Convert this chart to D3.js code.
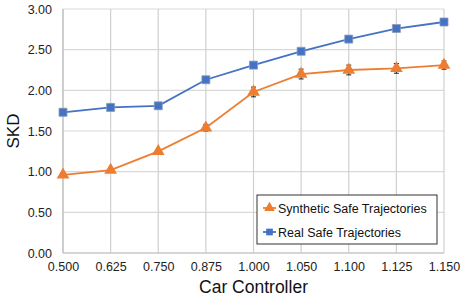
<!DOCTYPE html>
<html>
<head>
<meta charset="utf-8">
<script src="https://cdn.jsdelivr.net/npm/d3@7"></script>
<style>
  body { margin: 0; background: #fff; }
  text { font-family: "Liberation Sans", Arial, sans-serif; }
</style>
</head>
<body>
<div id="chart"></div>
<script>
var w = 463;
var h = 300;

// Data =====================================================
var categories = ["0.500","0.625","0.750","0.875","1.000","1.050","1.100","1.125","1.150"];
var realValues = [1.73, 1.79, 1.81, 2.13, 2.31, 2.48, 2.63, 2.76, 2.84];
var realErr    = [0.04, 0.04, 0.03, 0.03, 0.03, 0.03, 0.03, 0.03, 0.04];
var synthValues = [0.96, 1.02, 1.25, 1.54, 1.98, 2.20, 2.25, 2.27, 2.31];
var synthErr    = [0.02, 0.02, 0.02, 0.04, 0.06, 0.06, 0.06, 0.06, 0.05];
var yTicks = [0, 0.5, 1, 1.5, 2, 2.5, 3];
// ===========================================================

var margin = {left: 63, right: 19, top: 9, bottom: 47};

var svg = d3.select('#chart')
            .append('svg')
            .attr('width', w)
            .attr('height', h);

var x = d3.scalePoint()
          .domain(categories)
          .range([margin.left, w - margin.right]);

var y = d3.scaleLinear()
          .domain([0, 3])
          .range([h - margin.bottom, margin.top]);

// Grid =====================================================
svg.append('g').selectAll('line')
   .data(yTicks)
   .enter().append('line')
   .attr('x1', margin.left).attr('x2', w - margin.right)
   .attr('y1', d => y(d)).attr('y2', d => y(d))
   .attr('stroke', '#d9d9d9').attr('stroke-width', 1.2);

svg.append('g').selectAll('line')
   .data(categories)
   .enter().append('line')
   .attr('x1', d => x(d)).attr('x2', d => x(d))
   .attr('y1', margin.top).attr('y2', h - margin.bottom)
   .attr('stroke', '#d0d0d0').attr('stroke-width', 1.2);

// axis lines
svg.append('line')
   .attr('x1', margin.left).attr('x2', w - margin.right)
   .attr('y1', y(0)).attr('y2', y(0))
   .attr('stroke', '#bfbfbf').attr('stroke-width', 1.2);
svg.append('line')
   .attr('x1', margin.left).attr('x2', margin.left)
   .attr('y1', margin.top).attr('y2', y(0))
   .attr('stroke', '#bfbfbf').attr('stroke-width', 1.2);

// Axes labels ===============================================
var yAxis = d3.axisLeft(y).tickValues(yTicks).tickFormat(d3.format('.2f')).tickSize(0).tickPadding(11);
var gy = svg.append('g').attr('transform', 'translate(' + margin.left + ',0)').call(yAxis);
gy.select('.domain').remove();
gy.selectAll('text').attr('font-size', 12.5).attr('fill', '#222')
  .style('font-family', '"Liberation Sans", Arial, sans-serif');

var xAxis = d3.axisBottom(x).tickSize(0).tickPadding(9);
var gx = svg.append('g').attr('transform', 'translate(0,' + y(0) + ')').call(xAxis);
gx.select('.domain').remove();
gx.selectAll('text').attr('font-size', 12.5).attr('fill', '#222')
  .style('font-family', '"Liberation Sans", Arial, sans-serif');

svg.append('text')
   .attr('x', (margin.left + w - margin.right) / 2)
   .attr('y', 293)
   .attr('text-anchor', 'middle')
   .attr('font-size', 17.5)
   .attr('fill', '#111')
   .text('Car Controller');

svg.append('text')
   .attr('transform', 'translate(19,' + ((margin.top + y(0)) / 2) + ') rotate(-90)')
   .attr('text-anchor', 'middle')
   .attr('font-size', 17)
   .attr('fill', '#111')
   .text('SKD');

// Series ====================================================
var series = [
  {name: 'Synthetic Safe Trajectories', values: synthValues, err: synthErr, color: '#ED7D31', shape: d3.symbolTriangle, size: 70},
  {name: 'Real Safe Trajectories', values: realValues, err: realErr, color: '#4472C4', shape: d3.symbolSquare, size: 64}
];

var line = d3.line()
             .x((d, i) => x(categories[i]))
             .y(d => y(d));

series.forEach(function(s){
    svg.append('path')
       .datum(s.values)
       .attr('fill', 'none')
       .attr('stroke', s.color)
       .attr('stroke-width', 1.8)
       .attr('d', line);

    // error bars
    var eb = svg.append('g');
    s.values.forEach(function(v, i){
        var cx = x(categories[i]);
        eb.append('line')
          .attr('x1', cx).attr('x2', cx)
          .attr('y1', y(v - s.err[i])).attr('y2', y(v + s.err[i]))
          .attr('stroke', '#222').attr('stroke-width', 1);
        [v - s.err[i], v + s.err[i]].forEach(function(e){
            eb.append('line')
              .attr('x1', cx - 2.5).attr('x2', cx + 2.5)
              .attr('y1', y(e)).attr('y2', y(e))
              .attr('stroke', '#222').attr('stroke-width', 1);
        });
    });

    svg.append('g').selectAll('path')
       .data(s.values)
       .enter().append('path')
       .attr('transform', (d, i) => 'translate(' + x(categories[i]) + ',' + y(d) + ')')
       .attr('d', d3.symbol().type(s.shape).size(s.size))
       .attr('fill', s.color)
       .attr('stroke', s.shape === d3.symbolSquare ? '#8a9bb8' : 'none')
       .attr('stroke-width', 0.8);
});

// Legend ====================================================
var lg = svg.append('g').attr('transform', 'translate(257,195)');
lg.append('rect')
  .attr('width', 180).attr('height', 49)
  .attr('fill', '#fff').attr('stroke', '#333').attr('stroke-width', 1);

series.forEach(function(s, i){
    var ly = 13 + i * 24;
    lg.append('line')
      .attr('x1', 6).attr('x2', 19).attr('y1', ly).attr('y2', ly)
      .attr('stroke', s.color).attr('stroke-width', 1.8);
    lg.append('path')
      .attr('transform', 'translate(12.5,' + ly + ')')
      .attr('d', d3.symbol().type(s.shape).size(s.size * 0.7))
      .attr('fill', s.color);
    lg.append('text')
      .attr('x', 21).attr('y', ly + 4.5)
      .attr('font-size', 12.5)
      .attr('fill', '#111')
      .text(s.name);
});
</script>
</body>
</html>
